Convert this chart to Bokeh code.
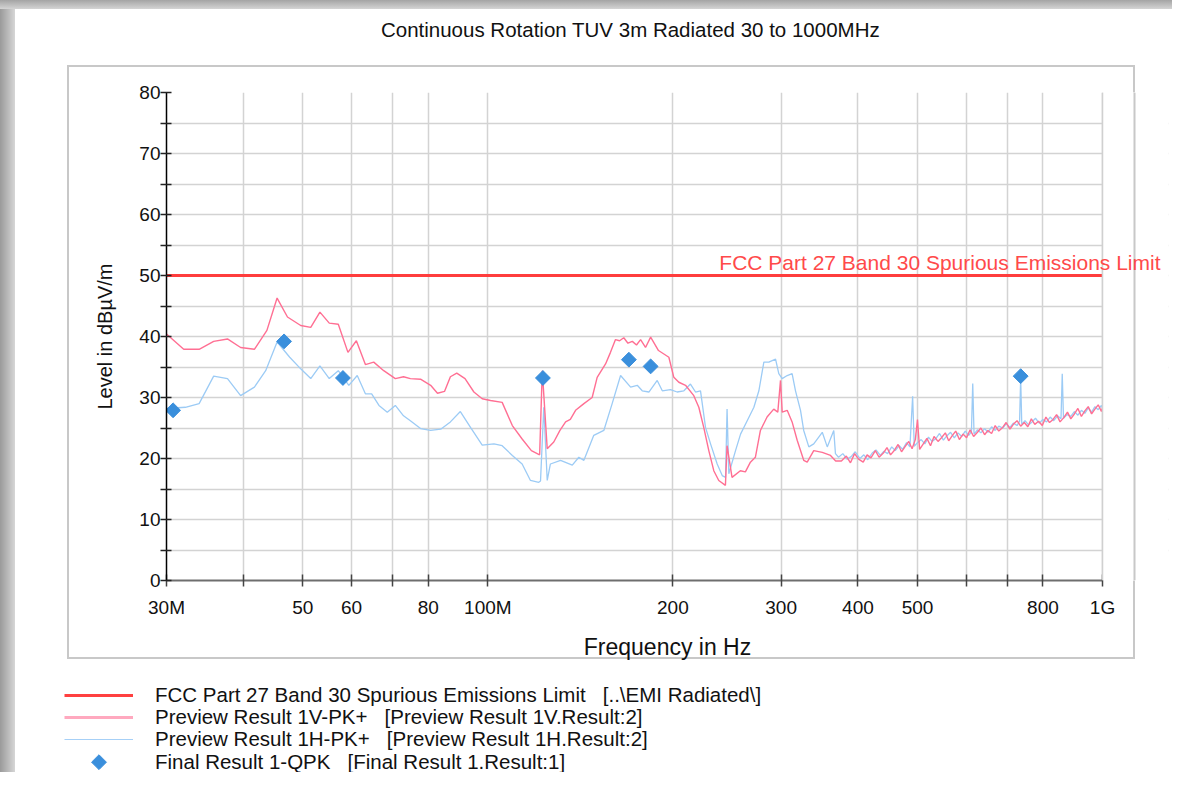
import math
from bokeh.plotting import figure
from bokeh.layouts import column
from bokeh.models import (ColumnDataSource, Label, Legend, LegendItem, FixedTicker,
                          BoxAnnotation, Span)
from bokeh.embed import file_html
from bokeh.resources import INLINE

TITLE = "Continuous Rotation TUV 3m Radiated 30 to 1000MHz"
LIMIT_NAME = "FCC Part 27 Band 30 Spurious Emissions Limit"

# ---- Preview Result 1V-PK+ (MHz, dBuV/m) ----
v_freq_mhz = [
    30.0, 32.0, 33.9, 35.8, 37.7, 39.6, 41.7, 43.7, 45.4, 47.2,
    49.6, 51.5, 53.3, 55.2, 57.1, 59.2, 61.1, 63.2, 65.2, 67.7,
    70.7, 72.9, 74.8, 77.7, 80.7, 82.8, 85.0, 86.9, 89.0, 91.8,
    94.9, 97.9, 101.0, 105.5, 109.6, 113.7, 117.7, 121.4, 122.6, 124.9,
    128.0, 131.0, 133.8, 136.2, 138.9, 143.3, 147.8, 150.6, 155.4, 158.3,
    161.3, 163.8, 166.4, 169.0, 171.8, 174.5, 177.2, 180.5, 184.0, 189.5,
    197.0, 200.7, 204.5, 209.7, 216.3, 220.4, 224.5, 228.8, 233.1, 237.5,
    243.5, 245.0, 249.6, 257.5, 262.4, 267.4, 272.4, 277.6, 284.6, 291.8,
    296.3, 299.3, 301.2, 306.9, 312.6, 318.6, 326.5, 330.8, 339.0, 350.0,
    361.0, 368.0,
    376, 383, 389, 395, 401, 408, 414, 420, 427, 433,
    440, 446, 452, 459, 465, 471, 477, 484, 490, 496,
    500, 504, 511, 518, 525, 532, 540, 547, 555, 562,
    570, 577, 585, 593, 601, 609, 617, 626, 634, 643,
    651, 660, 669, 678, 688, 697, 707, 716, 726, 736,
    746, 756, 766, 776, 787, 798, 809, 820, 831, 842,
    853, 865, 877, 888, 900, 912, 924, 936, 948, 960,
    972, 984, 996, 1000,
]
v_level = [
    40.4, 37.9, 37.9, 39.2, 39.6, 38.2, 37.9, 41.0, 46.3, 43.2,
    41.8, 41.5, 44.0, 42.2, 42.0, 37.4, 39.3, 35.4, 35.8, 34.4,
    33.1, 33.4, 33.1, 33.0, 32.0, 30.7, 31.0, 33.4, 34.0, 33.1,
    30.9, 29.8, 29.5, 29.2, 25.4, 23.2, 21.3, 20.6, 34.4, 21.6,
    22.7, 24.6, 26.0, 26.4, 27.9, 29.0, 30.0, 33.3, 35.5, 37.4,
    39.5, 39.3, 39.8, 38.9, 39.2, 38.6, 39.5, 38.2, 39.9, 37.7,
    36.6, 33.3, 32.5, 32.0, 30.3, 28.4, 25.1, 21.3, 18.0, 16.4,
    15.6, 22.1, 16.9, 18.0, 17.8, 19.4, 20.2, 24.6, 26.8, 28.1,
    27.6, 32.8, 27.6, 27.9, 26.0, 23.0, 19.7, 19.4, 21.3, 21.0,
    20.5, 19.6,
    19.6, 20.4, 19.3, 20.8, 19.9, 19.4, 20.6, 20.1, 21.3, 20.2,
    20.9, 21.8, 20.6, 21.4, 22.3, 21.1, 21.9, 22.8, 21.6, 23.1,
    26.4, 21.5, 22.4, 23.3, 22.1, 23.6, 22.8, 23.4, 24.2, 22.9,
    23.8, 24.5, 23.1, 24.0, 23.4, 24.7, 23.6, 24.3, 25.0, 23.9,
    24.6, 24.1, 25.4, 24.5, 25.1, 25.9, 24.8, 25.6, 26.2, 25.3,
    25.9, 25.2, 26.5, 25.6, 26.1, 25.4, 26.8, 25.9, 26.4, 27.2,
    26.0, 26.7, 27.6, 26.5, 27.3, 28.2, 26.9, 27.8, 28.5, 27.3,
    28.1, 28.8, 27.7, 28.3,
]

# ---- Preview Result 1H-PK+ (MHz, dBuV/m) ----
h_freq_mhz = [
    30.0, 32.2, 33.9, 35.8, 37.7, 39.6, 41.7, 43.5, 45.4, 47.6,
    49.6, 51.5, 53.3, 55.2, 57.1, 59.4, 61.3, 63.2, 64.7, 66.5,
    68.6, 70.7, 72.9, 74.8, 77.7, 80.7, 83.8, 86.9, 90.2, 93.7,
    97.9, 102.3, 105.5, 109.6, 113.7, 117.3, 121.0, 121.8, 123.3, 124.9,
    126.4, 131.3, 137.2, 140.6, 143.3, 148.7, 154.4, 159.3, 164.4, 170.7,
    175.0, 178.3, 182.8, 188.6, 192.2, 198.2, 203.2, 208.4, 213.6, 217.7,
    221.8, 226.0, 230.3, 236.1, 240.6, 243.6, 245.0, 246.6, 252.9, 257.7,
    264.2, 270.9, 276.0, 281.2, 286.5, 293.8, 297.4, 301.2, 306.9, 312.6,
    316.6, 322.6, 326.5, 332.8, 339.0, 350.0, 356.6, 365.4, 367.7, 372.0,
    378, 384, 390, 396, 403, 409, 415, 422, 428, 435,
    441, 447, 454, 460, 467, 473, 480, 486, 491, 494,
    500, 507, 514, 521, 528, 536, 543, 551, 558, 566,
    574, 582, 590, 598, 606, 612, 615, 618, 626, 634,
    643, 651, 660, 669, 678, 688, 697, 707, 716, 726,
    733, 736, 739, 748, 758, 768, 778, 789, 800, 811,
    822, 833, 845, 856, 860, 864, 876, 888, 900, 912,
    924, 936, 948, 960, 972, 984, 996, 1000,
]
h_level = [
    28.2, 28.4, 29.0, 33.5, 33.1, 30.3, 31.7, 34.4, 39.1, 36.6,
    34.7, 33.1, 35.2, 33.1, 34.4, 32.0, 33.6, 30.6, 30.6, 28.7,
    27.6, 28.7, 27.0, 26.2, 24.9, 24.6, 24.8, 26.0, 27.7, 25.1,
    22.2, 22.4, 22.1, 20.5, 19.1, 16.4, 16.1, 16.3, 28.4, 16.4,
    19.1, 19.7, 18.9, 20.2, 19.7, 23.8, 24.6, 29.0, 33.6, 31.7,
    32.0, 31.1, 30.9, 32.8, 31.1, 31.3, 30.9, 31.1, 32.2, 30.9,
    31.1, 25.1, 22.4, 19.1, 17.2, 16.9, 28.1, 17.5, 21.3, 24.0,
    26.2, 28.4, 31.1, 35.8, 35.8, 36.3, 33.9, 33.1, 33.6, 33.9,
    31.1, 27.9, 24.6, 21.9, 22.4, 24.3, 21.9, 24.6, 20.8, 20.2,
    20.8, 19.9, 20.3, 21.1, 20.0, 20.6, 19.8, 20.9, 21.4, 20.5,
    21.2, 20.8, 21.9, 21.3, 22.1, 21.5, 22.6, 21.9, 30.2, 22.0,
    22.6, 23.1, 22.4, 23.5, 22.8, 23.3, 24.1, 23.0, 23.7, 24.3,
    23.4, 24.2, 23.6, 24.5, 23.8, 24.4, 32.3, 24.0, 24.7, 24.2,
    24.9, 24.3, 25.2, 24.6, 25.3, 25.0, 25.7, 25.1, 25.8, 25.4,
    26.1, 33.2, 25.6, 26.2, 25.5, 26.0, 26.6, 25.8, 26.4, 26.0,
    26.8, 26.2, 27.0, 26.5, 33.9, 26.6, 27.2, 26.9, 27.7, 27.1,
    27.9, 27.4, 28.3, 27.6, 28.5, 28.0, 28.7, 28.3,
]

# ---- Final Result 1-QPK ----
qpk_freq_mhz = [30.75, 46.6, 58.1, 122.9, 169.6, 184.0, 736.0]
qpk_level = [27.9, 39.2, 33.2, 33.2, 36.2, 35.1, 33.5]

# ---- Limit ----
limit_freq_mhz = [30, 1000]
limit_level = [50, 50]

# ---- Axes ----
x_tick_mhz = [30, 40, 50, 60, 70, 80, 100, 200, 300, 400, 500, 600, 700, 800, 1000]
x_tick_labels = ["30M", "", "50", "60", "", "80", "100M", "200", "300", "400",
                 "500", "", "", "800", "1G"]
y_ticks = [0, 5, 10, 15, 20, 25, 30, 35, 40, 45, 50, 55, 60, 65, 70, 75, 80]
y_tick_labels = ["0", "", "10", "", "20", "", "30", "", "40", "", "50", "", "60",
                 "", "70", "", "80"]

legend_labels = [
    "FCC Part 27 Band 30 Spurious Emissions Limit   [..\\EMI Radiated\\]",
    "Preview Result 1V-PK+   [Preview Result 1V.Result:2]",
    "Preview Result 1H-PK+   [Preview Result 1H.Result:2]",
    "Final Result 1-QPK   [Final Result 1.Result:1]",
]
# legend-key stand-ins live outside the visible view of the legend strip
legend_stub_x = [-50, -40]
legend_stub_y = [-50, -50]

assert len(v_freq_mhz) == len(v_level)
assert len(h_freq_mhz) == len(h_level)

FONT = "Liberation Sans"
PINK = "#ff6f93"
BLUE = "#9ccbf5"
RED = "#ff3d3d"
DIAMOND = "#3a8fdc"
BOXC = "#c8c8c8"

# ---------------- layout geometry (pixels) ----------------
W = 1172
TITLE_H = 50              # title strip
MAIN_H = 622              # chart strip   (page y 50 .. 672)
LEG_H = 100               # legend strip  (page y 672 .. 772)
FRAME_L = 166
FRAME_T = 92 - TITLE_H
FRAME_B = 580 - TITLE_H
PLOT_R = 1102             # where 1 GHz sits
FRAME_R = 1168            # frame extends further so the limit text fits
X_MIN, X_MAX = 30e6, 1e9
px_per_dec = (PLOT_R - FRAME_L) / math.log10(X_MAX / X_MIN)
x_end = X_MAX * 10 ** ((FRAME_R - PLOT_R) / px_per_dec)
box_right_f = X_MAX * 10 ** ((1134 - PLOT_R) / px_per_dec)

LEG_X = 64                # left of legend keys
KEY_W = 69                # legend key width
ROW_H = 24                # legend row height
row_centers_page = [694.7, 716.7, 739.3, 761.7]
row_centers = [LEG_H - (c - (TITLE_H + MAIN_H)) for c in row_centers_page]

LEFT_BAND = "linear-gradient(to right,#9a9a9a,#d6d6d6) 0 0 / 15px 100% no-repeat"


def bar(x, y, w, h):
    return f"linear-gradient({BOXC},{BOXC}) {x}px {y}px / {w}px {h}px no-repeat"


bt = 65 - TITLE_H
bb = 657 - TITLE_H
main_bg = ", ".join([
    bar(68, bt, 1067, 2), bar(68, bb, 1067, 2),
    bar(67, bt, 2, bb - bt + 2), bar(1133, bt, 2, bb - bt + 2),
    LEFT_BAND, "white",
])
title_bg = ", ".join([
    "linear-gradient(to bottom,#a4a4a4,#d4d4d4) 0 0 / 100% 9px no-repeat",
    LEFT_BAND, "white",
])
leg_bg = ", ".join([LEFT_BAND, "white"])


def no_align(fig):
    try:
        fig.frame_align = False
    except Exception:
        pass


# ---------------- title strip ----------------
pt = figure(width=W, height=TITLE_H, x_range=(0, 1), y_range=(0, 1),
            output_backend="svg", toolbar_location=None,
            x_axis_location=None, y_axis_location=None,
            min_border=0, styles={"background": title_bg})
no_align(pt)
pt.grid.visible = False
pt.outline_line_color = None
pt.background_fill_alpha = 0
pt.border_fill_alpha = 0
pt.add_layout(Label(x=630, y=TITLE_H - 29, x_units="screen", y_units="screen",
                    text=TITLE, text_align="center", text_baseline="middle",
                    text_font=FONT, text_font_size="20.5px", text_color="#111111"))

# ---------------- chart ----------------
p = figure(width=W, height=MAIN_H, x_axis_type="log",
           x_range=(X_MIN, x_end), y_range=(0, 80),
           output_backend="svg", toolbar_location=None,
           min_border_left=FRAME_L, min_border_right=W - FRAME_R,
           min_border_top=FRAME_T, min_border_bottom=MAIN_H - FRAME_B,
           styles={"background": main_bg})
no_align(p)
p.background_fill_color = "white"
p.border_fill_alpha = 0
p.outline_line_color = None

src_v = ColumnDataSource(dict(f=[f * 1e6 for f in v_freq_mhz], y=v_level))
src_h = ColumnDataSource(dict(f=[f * 1e6 for f in h_freq_mhz], y=h_level))
src_q = ColumnDataSource(dict(f=[f * 1e6 for f in qpk_freq_mhz], y=qpk_level))
src_l = ColumnDataSource(dict(f=[f * 1e6 for f in limit_freq_mhz], y=limit_level))

mark_q = dict(marker="square", angle=math.pi / 4, size=10.5,
              fill_color=DIAMOND, line_color=DIAMOND)

p.line("f", "y", source=src_h, line_color=BLUE, line_width=1.3)
p.line("f", "y", source=src_v, line_color=PINK, line_width=1.4)
p.line("f", "y", source=src_l, line_color=RED, line_width=3)
p.scatter("f", "y", source=src_q, **mark_q)

xt = [f * 1e6 for f in x_tick_mhz]
p.xaxis.ticker = FixedTicker(ticks=xt)
p.xaxis.major_label_overrides = {t: lab for t, lab in zip(xt, x_tick_labels)}
p.xaxis.bounds = (X_MIN, X_MAX)
p.yaxis.ticker = FixedTicker(ticks=y_ticks)
p.yaxis.major_label_overrides = {t: lab for t, lab in zip(y_ticks, y_tick_labels)}

for ax in (p.xaxis[0], p.yaxis[0]):
    ax.minor_tick_line_color = None
    ax.major_label_text_font = FONT
    ax.major_label_text_font_size = "19px"
    ax.major_label_text_color = "#111111"
    ax.axis_label_text_font = FONT
    ax.axis_label_text_font_style = "normal"
    ax.axis_label_text_color = "#111111"

p.yaxis.axis_label = "Level in dB\u00b5V/m"
p.yaxis.axis_label_text_font_size = "20px"
p.yaxis.axis_label_standoff = 20
p.yaxis.axis_line_color = "black"
p.yaxis.axis_line_width = 1.5
p.yaxis.major_tick_in = 5
p.yaxis.major_tick_out = 6
p.yaxis.major_tick_line_color = "#222222"
p.yaxis.major_tick_line_width = 1.5
p.yaxis.major_label_standoff = 0

p.xaxis.axis_label = "Frequency in Hz"
p.xaxis.axis_label_text_font_size = "23px"
p.xaxis.axis_label_standoff = 13
p.xaxis.axis_line_color = "#6e6e6e"
p.xaxis.axis_line_width = 2
p.xaxis.major_tick_in = 6
p.xaxis.major_tick_out = 6
p.xaxis.major_tick_line_color = "#444444"
p.xaxis.major_tick_line_width = 1.5
p.xaxis.major_label_standoff = 10

p.grid.grid_line_color = "#d3d3d3"
p.grid.grid_line_width = 1.5

# blank area right of 1 GHz (inside the widened frame)
p.add_layout(BoxAnnotation(left=X_MAX, fill_color="white", fill_alpha=1,
                           line_color=None))
p.add_layout(Span(location=X_MAX, dimension="height", line_color="#d0d0d0",
                  line_width=1.5))
p.add_layout(Span(location=box_right_f, dimension="height", line_color=BOXC,
                  line_width=2))

# limit label
p.add_layout(Label(x=1160 - FRAME_L, y=FRAME_B - (262 - TITLE_H), x_units="screen",
                   y_units="screen", text=LIMIT_NAME, text_align="right",
                   text_baseline="alphabetic", text_font=FONT,
                   text_font_size="21px", text_color="#ff4a4a"))

# ---------------- legend strip ----------------
pl = figure(width=W, height=LEG_H, x_range=(0, W), y_range=(0, LEG_H),
            output_backend="svg", toolbar_location=None,
            x_axis_location=None, y_axis_location=None,
            min_border=0, styles={"background": leg_bg})
no_align(pl)
pl.grid.visible = False
pl.outline_line_color = None
pl.background_fill_alpha = 0
pl.border_fill_alpha = 0
g_l = pl.line(legend_stub_x, legend_stub_y, line_color="#ff4040", line_width=3)
g_v = pl.line(legend_stub_x, legend_stub_y, line_color="#ffa9bf", line_width=3)
g_h = pl.line(legend_stub_x, legend_stub_y, line_color="#a6d0f7", line_width=1.2)
g_q = pl.scatter(legend_stub_x, legend_stub_y, marker="square",
                 fill_alpha=0, line_alpha=0)
# visible diamond key for the QPK row (the legend's own marker key is unrotated)
pl.scatter([LEG_X + KEY_W / 2], [row_centers[3]], **mark_q)

for lab, rend, c in zip(legend_labels, [g_l, g_v, g_h, g_q], row_centers):
    pl.add_layout(Legend(
        items=[LegendItem(label=lab, renderers=[rend])],
        location=(LEG_X, c - ROW_H / 2), orientation="vertical",
        border_line_color=None, background_fill_alpha=0,
        padding=0, margin=0, spacing=0,
        glyph_width=KEY_W, glyph_height=ROW_H, label_height=ROW_H,
        label_standoff=22, label_text_font=FONT,
        label_text_font_size="20.5px", label_text_color="#111111"), "center")

layout = column(pt, p, pl, spacing=0)
open("out.html", "w").write(file_html(layout, INLINE))
